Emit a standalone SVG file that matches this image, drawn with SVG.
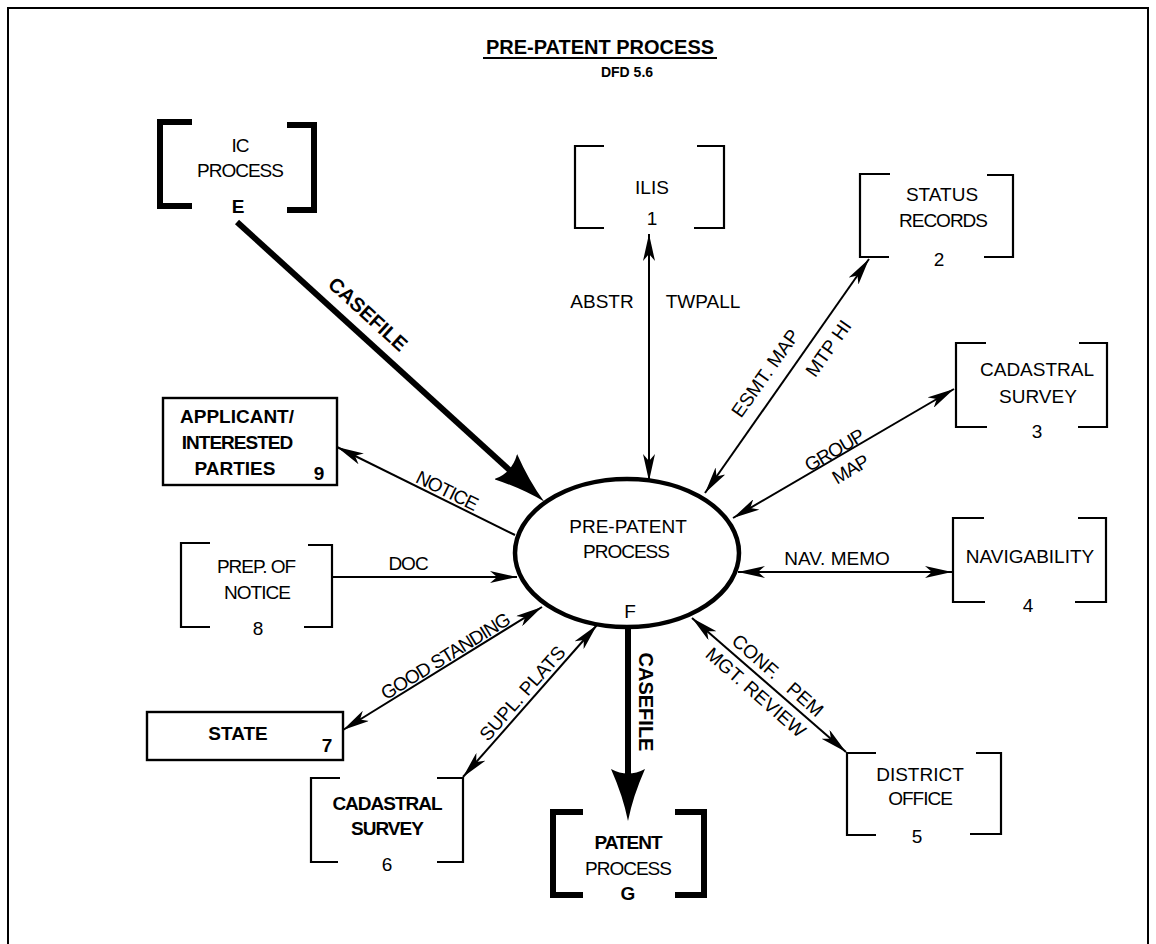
<svg xmlns="http://www.w3.org/2000/svg" width="1156" height="944" viewBox="0 0 1156 944">
  <style>
    .t { font-family: "Liberation Sans", Arial, Helvetica, sans-serif; font-size: 19px; text-anchor: middle; fill: #000; }
    .b { font-weight: bold; }
    .c { letter-spacing: -1px; }
    .br { fill: none; stroke: #000; stroke-width: 2.2; }
    .brk { fill: none; stroke: #000; stroke-width: 6; }
    .box { fill: none; stroke: #000; stroke-width: 2.4; }
    .ln { fill: none; stroke: #000; stroke-width: 2; }
    .lnk { fill: none; stroke: #000; stroke-width: 6; }
  </style>
  <defs>
    <marker id="ah" viewBox="0 0 27 12" refX="27" refY="6" markerWidth="27" markerHeight="12" markerUnits="userSpaceOnUse" orient="auto-start-reverse">
      <path d="M0,0 L27,6 L0,12 L7,6 z" fill="#000"/>
    </marker>
    <marker id="bh" viewBox="0 0 52 34" refX="14" refY="17" markerWidth="52" markerHeight="34" markerUnits="userSpaceOnUse" orient="auto">
      <path d="M0,0 Q27,12 52,17 Q27,22 0,34 Q9,17 0,0 z" fill="#000"/>
    </marker>
  </defs>

  <rect width="1156" height="944" fill="#fff"/>

  <!-- page frame -->
  <path d="M8,944 V8 H1148 V944" fill="none" stroke="#000" stroke-width="2"/>

  <!-- heading -->
  <g id="title">
    <text class="t b" x="600" y="54" style="font-size:20px">PRE-PATENT PROCESS</text>
    <line x1="483" y1="58" x2="717" y2="58" stroke="#000" stroke-width="2"/>
    <text class="t b" x="627" y="77" style="font-size:14px">DFD 5.6</text>
  </g>

  <!-- connectors -->
  <g id="connectors">
    <line class="lnk" x1="237" y1="222" x2="516" y2="476" marker-end="url(#bh)"/>
    <line class="lnk" x1="628" y1="628" x2="628" y2="783" marker-end="url(#bh)"/>
    <line class="ln" x1="649" y1="481" x2="649" y2="234" marker-start="url(#ah)" marker-end="url(#ah)"/>
    <line class="ln" x1="705" y1="493" x2="869" y2="259" marker-start="url(#ah)" marker-end="url(#ah)"/>
    <line class="ln" x1="733" y1="518" x2="954" y2="389" marker-start="url(#ah)" marker-end="url(#ah)"/>
    <line class="ln" x1="738" y1="572" x2="952" y2="572" marker-start="url(#ah)" marker-end="url(#ah)"/>
    <line class="ln" x1="692" y1="618" x2="846" y2="752" marker-start="url(#ah)" marker-end="url(#ah)"/>
    <line class="ln" x1="597" y1="625" x2="463" y2="777" marker-start="url(#ah)" marker-end="url(#ah)"/>
    <line class="ln" x1="542" y1="607" x2="343" y2="730" marker-start="url(#ah)" marker-end="url(#ah)"/>
    <line class="ln" x1="332" y1="577" x2="517" y2="577" marker-end="url(#ah)"/>
    <line class="ln" x1="515" y1="535" x2="337" y2="447" marker-end="url(#ah)"/>

    <!-- flow labels -->
    <text class="t b" transform="translate(368,314) rotate(42.3)" y="7" style="font-size:20px">CASEFILE</text>
    <text class="t b" transform="translate(646,702) rotate(90)" y="7" style="font-size:20px">CASEFILE</text>
    <text class="t" x="602" y="308">ABSTR</text>
    <text class="t" x="703" y="308">TWPALL</text>
    <text class="t" transform="translate(765,373) rotate(-54.7)" y="7">ESMT. MAP</text>
    <text class="t" transform="translate(828,348) rotate(-54.7)" y="7">MTP HI</text>
    <text class="t c" transform="translate(834,450) rotate(-30.3)" y="7">GROUP</text>
    <text class="t c" transform="translate(850,469) rotate(-30.3)" y="7">MAP</text>
    <text class="t" x="837" y="565">NAV. MEMO</text>
    <text class="t" transform="translate(778,675) rotate(41.2)" y="7">CONF.<tspan dx="16">PEM</tspan></text>
    <text class="t" transform="translate(756,692) rotate(41.2)" y="7">MGT. REVIEW</text>
    <text class="t" transform="translate(522,693) rotate(-48.6)" y="7">SUPL. PLATS</text>
    <text class="t c" transform="translate(445,656) rotate(-31.7)" y="7">GOOD STANDING</text>
    <text class="t c" x="408" y="570">DOC</text>
    <text class="t c" transform="translate(447,490) rotate(26.3)" y="7">NOTICE</text>
  </g>

  <!-- central process -->
  <g id="pre-patent">
    <ellipse cx="627" cy="553" rx="112" ry="74" fill="none" stroke="#000" stroke-width="4.5"/>
    <text class="t" x="628" y="533">PRE-PATENT</text>
    <text class="t c" x="626" y="558">PROCESS</text>
    <text class="t" x="630" y="618">F</text>
  </g>

  <g id="ic-process">
    <path class="brk" d="M192,122 H160 V206 H192 M287,125 H314 V210 H287"/>
    <text class="t c" x="240" y="152">IC</text>
    <text class="t c" x="240" y="177">PROCESS</text>
    <text class="t b" x="238" y="213">E</text>
  </g>

  <g id="ilis">
    <path class="br" d="M604,146 H575 V228 H604 M697,146 H724 V228 H694"/>
    <text class="t" x="652" y="194">ILIS</text>
    <text class="t" x="652" y="225">1</text>
  </g>

  <g id="status-records">
    <path class="br" d="M890,174 H860 V257 H889 M987,175 H1013 V257 H984"/>
    <text class="t" x="942" y="201">STATUS</text>
    <text class="t c" x="943" y="227">RECORDS</text>
    <text class="t" x="939" y="266">2</text>
  </g>

  <g id="cadastral-survey-3">
    <path class="br" d="M986,343 H956 V427 H987 M1079,343 H1107 V427 H1078"/>
    <text class="t" x="1037" y="376">CADASTRAL</text>
    <text class="t" x="1038" y="403">SURVEY</text>
    <text class="t" x="1037" y="438">3</text>
  </g>

  <g id="navigability">
    <path class="br" d="M984,518 H953 V602 H985 M1078,518 H1106 V602 H1075"/>
    <text class="t" x="1030" y="563">NAVIGABILITY</text>
    <text class="t" x="1028" y="612">4</text>
  </g>

  <g id="district-office">
    <path class="br" d="M876,753 H847 V835 H876 M976,753 H1001 V834 H970"/>
    <text class="t" x="920" y="781">DISTRICT</text>
    <text class="t c" x="920" y="805">OFFICE</text>
    <text class="t" x="917" y="843">5</text>
  </g>

  <g id="patent-process">
    <path class="brk" d="M583,812 H553 V895 H583 M675,812 H704 V895 H675"/>
    <text class="t b c" x="628" y="849">PATENT</text>
    <text class="t c" x="628" y="875">PROCESS</text>
    <text class="t b" x="628" y="900">G</text>
  </g>

  <g id="cadastral-survey-6">
    <path class="br" d="M340,778 H311 V862 H338 M437,778 H463 V862 H437"/>
    <text class="t b c" x="387" y="810">CADASTRAL</text>
    <text class="t b c" x="387" y="835">SURVEY</text>
    <text class="t" x="387" y="871">6</text>
  </g>

  <g id="state">
    <rect class="box" x="147" y="712" width="196" height="48"/>
    <text class="t b" x="238" y="740">STATE</text>
    <text class="t b" x="327" y="752">7</text>
  </g>

  <g id="prep-of-notice">
    <path class="br" d="M210,543 H181 V627 H210 M308,545 H332 V627 H304"/>
    <text class="t c" x="256" y="573">PREP. OF</text>
    <text class="t c" x="257" y="599">NOTICE</text>
    <text class="t" x="258" y="635">8</text>
  </g>

  <g id="applicant">
    <rect class="box" x="163" y="398" width="174" height="87"/>
    <text class="t b" x="237" y="423">APPLICANT/</text>
    <text class="t b c" x="237" y="449">INTERESTED</text>
    <text class="t b" x="235" y="475">PARTIES</text>
    <text class="t b" x="319" y="480">9</text>
  </g>
</svg>
